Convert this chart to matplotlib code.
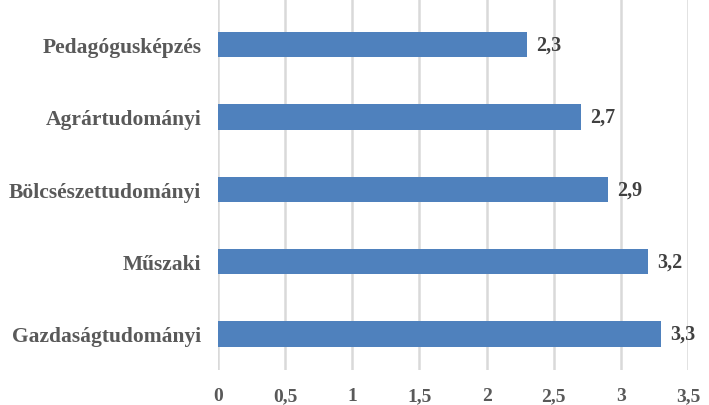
import matplotlib.pyplot as plt
from matplotlib.ticker import FuncFormatter

categories = ["Gazdaságtudományi", "Műszaki", "Bölcsészettudományi",
              "Agrártudományi", "Pedagógusképzés"]
values = [3.3, 3.2, 2.9, 2.7, 2.3]
xticks = [0, 0.5, 1, 1.5, 2, 2.5, 3, 3.5]

plt.rcParams["font.family"] = ["Liberation Serif", "DejaVu Serif"]
plt.rcParams["font.weight"] = "bold"

fig = plt.figure(figsize=(7.09, 4.06), dpi=100)
ax = fig.add_axes([0.3075, 0.086, 0.663, 0.914])

ypos = range(len(categories))
ax.barh(ypos, values, height=0.35, color="#4F81BD", zorder=3)
for y, v in zip(ypos, values):
    ax.text(v + 0.07, y, f"{v:.1f}".replace(".", ","), va="center", ha="left",
            fontsize=14.5, fontweight="bold", color="#404040")

ax.set_xlim(0, 3.5)
ax.set_ylim(-0.5, 4.63)
ax.set_xticks(xticks)
ax.xaxis.set_major_formatter(FuncFormatter(lambda x, _: f"{x:g}".replace(".", ",")))
ax.set_yticks(list(ypos))
ax.set_yticklabels(categories)
ax.tick_params(axis="both", length=0, labelcolor="#595959")
ax.tick_params(axis="x", pad=12, labelsize=14)
ax.tick_params(axis="y", pad=12, labelsize=15.5)
for lbl in ax.get_xticklabels() + ax.get_yticklabels():
    lbl.set_fontweight("bold")

ax.grid(axis="x", color="#D9D9D9", linewidth=1.8, zorder=0)
for s in ax.spines.values():
    s.set_visible(False)

fig.savefig("out.png", dpi=100)
